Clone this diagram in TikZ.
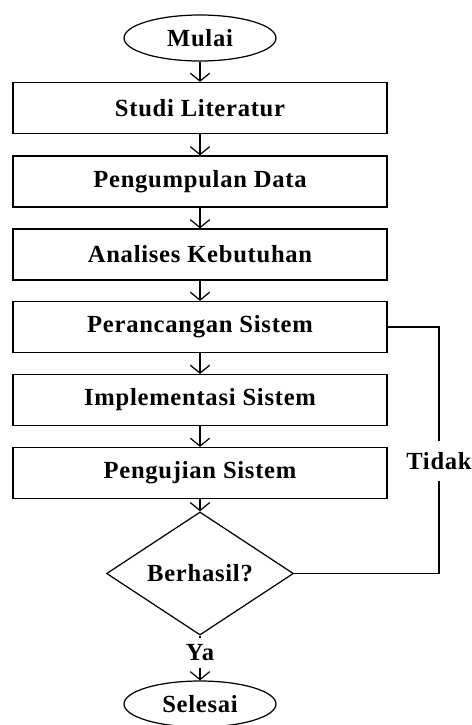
\documentclass[tikz,border=0pt]{standalone}
\usepackage{fontspec}
\setmainfont{Liberation Serif}[LetterSpace=3]
\usetikzlibrary{shapes.geometric,arrows.meta}
\begin{document}
\begin{tikzpicture}[x=0.02cm,y=-0.02cm,line width=0.7pt,
  >={Straight Barb[length=4.5pt,width=11pt]},
  font=\fontsize{14}{16}\selectfont\bfseries,
  terminal/.style={draw,ellipse,minimum width=3.04cm,minimum height=0.92cm,inner sep=0pt},
  proses/.style={draw,rectangle,minimum width=7.48cm,minimum height=1.02cm},
  keputusan/.style={draw,diamond,minimum width=3.74cm,minimum height=1.98cm,inner sep=0pt},
  ket/.style={fill=white,inner sep=0pt}]
\useasboundingbox (0,0) rectangle (472,725);
\node[terminal] (mulai) at (200,38) {Mulai};
\node[proses] (studi) at (200,108) {Studi Literatur};
\node[proses] (data) at (200,181.5) {Pengumpulan Data};
\node[proses] (analisa) at (200,254.5) {Analises Kebutuhan};
\node[proses] (rancang) at (200,327) {Perancangan Sistem};
\node[proses] (implementasi) at (200,400) {Implementasi Sistem};
\node[proses] (uji) at (200,473) {Pengujian Sistem};
\node[keputusan] (berhasil) at (200,573.5) {Berhasil?};
\node[ket,minimum height=0.58cm] (ya) at (200,653) {Ya};
\node[terminal] (selesai) at (200,704) {Selesai};
\node[ket,minimum height=0.76cm] (tidak) at (439,461) {Tidak};
% alur utama
\draw[->] (mulai) -- (studi);
\draw[->] (studi) -- (data);
\draw[->] (data) -- (analisa);
\draw[->] (analisa) -- (rancang);
\draw[->] (rancang) -- (implementasi);
\draw[->] (implementasi) -- (uji);
\draw[->] (uji) -- (berhasil);
\draw (berhasil) -- (ya);
\draw[->] (ya) -- (selesai);
% kembali ke perancangan
\draw (berhasil.east) -| (tidak.south);
\draw (tidak.north) |- (rancang.east);
\end{tikzpicture}
\end{document}
